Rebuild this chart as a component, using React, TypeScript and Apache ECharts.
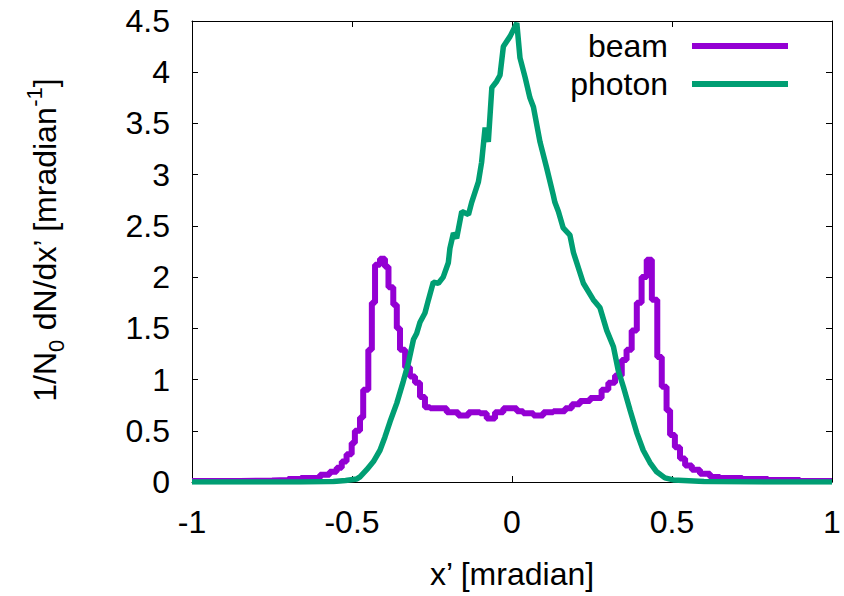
import React, { useEffect, useRef } from "react";
import * as echarts from "echarts";

const FONT = "'Liberation Sans', Arial, Helvetica, sans-serif";

const xTicks = [-1, -0.5, 0, 0.5, 1];
const yTicks = [0, 0.5, 1, 1.5, 2, 2.5, 3, 3.5, 4, 4.5];

// beam: histogram, left bin edges and heights
const beamX = [
  -1.0, -0.85, -0.75, -0.7, -0.66, -0.6, -0.57, -0.548, -0.532, -0.517, -0.501, -0.491, -0.475,
  -0.465, -0.449, -0.438, -0.428, -0.4125, -0.397, -0.386, -0.371, -0.36, -0.35, -0.334, -0.319,
  -0.303, -0.2875, -0.272, -0.256, -0.225, -0.204, -0.168, -0.136, -0.1, -0.079, -0.053, -0.027,
  0.015, 0.035, 0.067, 0.098, 0.129, 0.166, 0.187, 0.212, 0.244, 0.28, 0.301, 0.322, 0.343, 0.358,
  0.374, 0.39, 0.405, 0.421, 0.437, 0.454, 0.468, 0.483, 0.494, 0.509, 0.525, 0.541, 0.562, 0.5875,
  0.619, 0.65, 0.72, 0.8, 0.9, 1.0,
];
const beamY = [
  0.01, 0.015, 0.02, 0.03, 0.04, 0.07, 0.1, 0.14, 0.2, 0.27, 0.38, 0.5, 0.63,
  0.9, 1.29, 1.75, 2.12, 2.18, 2.1, 1.9, 1.73, 1.5, 1.29, 1.12, 1.03,
  0.97, 0.83, 0.73, 0.72, 0.72, 0.68, 0.65, 0.68, 0.67, 0.62, 0.68, 0.72,
  0.69, 0.67, 0.65, 0.68, 0.69, 0.72, 0.76, 0.79, 0.82, 0.9, 0.97, 1.04, 1.19, 1.29,
  1.48, 1.75, 2.0, 2.17, 1.78, 1.22, 0.93, 0.7, 0.46, 0.34, 0.23, 0.16, 0.12, 0.08,
  0.05, 0.04, 0.03, 0.02, 0.01, 0.01,
];

// photon: smooth distribution
const photonX = [
  -1, -0.8, -0.66, -0.558, -0.52, -0.485, -0.475, -0.454, -0.433, -0.4125, -0.397, -0.381, -0.36,
  -0.34, -0.324, -0.308, -0.298, -0.2875, -0.272, -0.261, -0.246, -0.23, -0.215, -0.199, -0.194,
  -0.183, -0.173, -0.157, -0.136, -0.126, -0.105, -0.095, -0.084, -0.074, -0.063, -0.048, -0.0375,
  -0.027, -0.006, 0.015, 0.025, 0.041, 0.056, 0.067, 0.0875, 0.108, 0.129, 0.134, 0.145, 0.16,
  0.181, 0.192, 0.223, 0.254, 0.275, 0.296, 0.317, 0.332, 0.348, 0.369, 0.39, 0.41, 0.431, 0.452,
  0.478, 0.504, 0.6, 0.8, 1,
];
const photonY = [
  0, 0, 0, 0.005, 0.015, 0.03, 0.05, 0.12, 0.2, 0.31, 0.44, 0.59, 0.77,
  0.98, 1.16, 1.39, 1.45, 1.56, 1.65, 1.78, 1.95, 1.94, 2.0, 2.14, 2.28,
  2.43, 2.38, 2.64, 2.61, 2.73, 2.93, 3.12, 3.46, 3.32, 3.85, 3.91, 3.97,
  4.25, 4.35, 4.48, 4.14, 3.95, 3.75, 3.66, 3.32, 3.07, 2.8, 2.73, 2.64, 2.48,
  2.41, 2.24, 1.94, 1.78, 1.7, 1.48, 1.32, 1.09, 0.93, 0.7, 0.48, 0.31, 0.19, 0.1,
  0.04, 0.02, 0.005, 0, 0,
];

const seriesNames = ["beam", "photon"];
const seriesColors = ["#9400d3", "#009e73"];

export default function App() {
  const ref = useRef<HTMLDivElement>(null);
  useEffect(() => {
    if (!ref.current) return;
    const chart = echarts.init(ref.current, null, { renderer: "svg" });
    const fs = 32;
    const tickLen = 6;
    const axisCommon = {
      type: "value" as const,
      axisLine: { show: true, onZero: false, lineStyle: { color: "#000", width: 1 } },
      axisTick: { show: true, inside: true, length: tickLen, lineStyle: { color: "#000", width: 1 } },
      splitLine: { show: false },
    };
    const legendCommon = (name: string, top: number) => ({
      data: [name],
      right: 56,
      top,
      orient: "horizontal",
      align: "right",
      padding: 0,
      itemWidth: 96,
      itemHeight: 6,
      icon: "rect",
      selectedMode: false,
      textStyle: { fontSize: fs, fontFamily: FONT, color: "#000", lineHeight: 34, padding: [0, 19, 0, 0] },
    });
    chart.setOption({
      animation: false,
      backgroundColor: "#fff",
      grid: { left: 192, top: 21, right: 12, bottom: 114, containLabel: false },
      xAxis: [
        {
          ...axisCommon,
          min: xTicks[0],
          max: xTicks[xTicks.length - 1],
          interval: 0.5,
          position: "bottom",
          axisLabel: { fontSize: fs, fontFamily: FONT, color: "#000", margin: 24 },
          name: "x’ [mradian]",
          nameLocation: "middle",
          nameGap: 76,
          nameTextStyle: { fontSize: fs, fontFamily: FONT, color: "#000" },
        },
        {
          ...axisCommon,
          min: xTicks[0],
          max: xTicks[xTicks.length - 1],
          interval: 0.5,
          position: "top",
          axisLabel: { show: false },
        },
      ],
      yAxis: [
        {
          ...axisCommon,
          min: yTicks[0],
          max: yTicks[yTicks.length - 1],
          interval: 0.5,
          position: "left",
          axisLabel: { fontSize: fs, fontFamily: FONT, color: "#000", margin: 22 },
        },
        {
          ...axisCommon,
          min: yTicks[0],
          max: yTicks[yTicks.length - 1],
          interval: 0.5,
          position: "right",
          axisLabel: { show: false },
        },
      ],
      legend: [legendCommon(seriesNames[0], 29), legendCommon(seriesNames[1], 67)],
      graphic: [
        {
          type: "text",
          x: 45,
          y: 240,
          rotation: Math.PI / 2,
          style: {
            text: "1/N{sub|0} dN/dx’ [mradian{sup|-1}]",
            fontSize: fs,
            fontFamily: FONT,
            fill: "#000",
            align: "center",
            verticalAlign: "middle",
            lineHeight: 44,
            rich: {
              sub: { fontSize: 22, fontFamily: FONT, fill: "#000", verticalAlign: "bottom", lineHeight: 22 },
              sup: { fontSize: 22, fontFamily: FONT, fill: "#000", verticalAlign: "top", lineHeight: 22 },
            },
          },
        },
      ],
      series: [
        {
          name: seriesNames[0],
          type: "line",
          step: "end",
          showSymbol: false,
          symbol: "none",
          data: beamX.map((x, i) => [x, beamY[i]]),
          lineStyle: { color: seriesColors[0], width: 6 },
          itemStyle: { color: seriesColors[0] },
          clip: true,
          z: 2,
        },
        {
          name: seriesNames[1],
          type: "line",
          showSymbol: false,
          symbol: "none",
          data: photonX.map((x, i) => [x, photonY[i]]),
          lineStyle: { color: seriesColors[1], width: 5.5 },
          itemStyle: { color: seriesColors[1] },
          clip: true,
          z: 3,
        },
      ],
    });
    return () => chart.dispose();
  }, []);
  return <div ref={ref} style={{ width: 844, height: 596, position: "absolute", left: 0, top: 0 }} />;
}
